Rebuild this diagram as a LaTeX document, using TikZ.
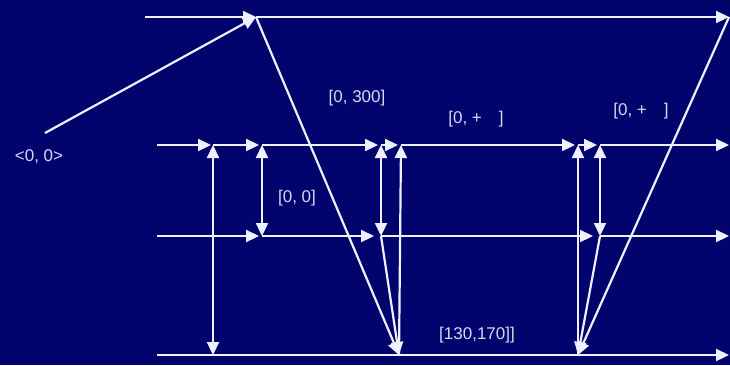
\documentclass[tikz,border=0pt]{standalone}
\usepackage{fontspec}
\setmainfont{Liberation Sans}
\usetikzlibrary{arrows.meta}
\definecolor{bg}{RGB}{0,4,108}
\definecolor{fg}{RGB}{240,240,252}
\definecolor{txt}{RGB}{215,215,240}
\begin{document}
\begin{tikzpicture}[x=1pt,y=-1pt,
  wire/.style={draw=fg,line width=2.2pt},
  tip/.style={wire,-{Triangle[length=13pt,width=12pt]}},
  twotip/.style={wire,{Triangle[length=13pt,width=12pt]}-{Triangle[length=13pt,width=12pt]}},
  lbl/.style={text=txt,font=\fontsize{17}{19}\selectfont,inner sep=0pt}]
\fill[bg] (0,0) rectangle (730,365);
\useasboundingbox (0,0) rectangle (730,365);

% timeline starts and ends
\coordinate (t1s) at (145,17);  \coordinate (t1e) at (729,17);
\coordinate (t2s) at (157,145); \coordinate (t2e) at (729,145);
\coordinate (t3s) at (157,236); \coordinate (t3e) at (729,236);
\coordinate (t4s) at (157,355); \coordinate (t4e) at (729,355);

% events
\coordinate (a) at (256,17);
\coordinate (src) at (45,133);
\coordinate (e21) at (213,145);
\coordinate (e22) at (262,145);
\coordinate (e23) at (381,145);
\coordinate (e24) at (401,145);
\coordinate (e25) at (578,145);
\coordinate (e26) at (600,145);
\coordinate (e31) at (262,236);
\coordinate (e32) at (381,236);
\coordinate (e33) at (600,236);
\coordinate (b1) at (213,355);
\coordinate (b2) at (399,355);
\coordinate (b3) at (578,355);

% timelines
\draw[tip] (t1s) -- (a);
\draw[tip] (a) -- (t1e);
\draw[tip] (t2s) -- ([xshift=-2pt]e21);
\draw[tip] (e21) -- ([xshift=-3pt]e22);
\draw[tip] (e22) -- ([xshift=-3pt]e23);
\draw[tip] (e23) -- ([xshift=-3pt]e24);
\draw[tip] (e24) -- ([xshift=-3pt]e25);
\draw[tip] (e25) -- ([xshift=-3pt]e26);
\draw[tip] (e26) -- (t2e);
\draw[tip] (t3s) -- ([xshift=-3pt]e31);
\draw[tip] (e31) -- ([xshift=-7pt]e32);
\draw[tip] (e32) -- ([xshift=-7pt]e33);
\draw[tip] (e33) -- (t3e);
\draw[tip] (t4s) -- (t4e);

% messages and constraints
\draw[tip] (src) -- (a);
\draw[tip] (a) -- (b2);
\draw[twotip] (b1) -- (e21);
\draw[twotip] (e31) -- (e22);
\draw[twotip] (e32) -- (e23);
\draw[tip] (e32) -- (b2);
\draw[tip] (b2) -- (e24);
\draw[tip] (b3) -- (e25);
\draw[twotip] (e33) -- (e26);
\draw[tip] (e33) -- (b3);
\draw[tip] (t1e) -- (b3);

% labels
\node[lbl] (l0) at (39,157) {<0, 0>};
\node[lbl] (l1) at (357,98) {[0, 300]};
\node[lbl] (l2) at (476,119) {[0, +\hspace{17pt}]};
\node[lbl] (l3) at (641,111) {[0, +\hspace{17pt}]};
\node[lbl] (l4) at (297,198) {[0, 0]};
\node[lbl] (l5) at (477,335) {[130,170]]};
\end{tikzpicture}
\end{document}
